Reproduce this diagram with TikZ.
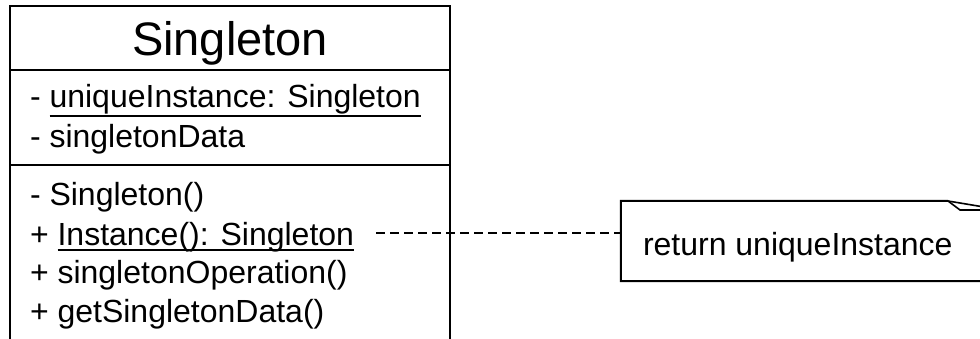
\documentclass[tikz,border=0pt]{standalone}
\usepackage{fontspec}
\setmainfont{Liberation Sans}
\usetikzlibrary{calc}
\begin{document}
\begin{tikzpicture}[x=1pt,y=-1pt,
  compartment/.style={draw, line width=2pt, rectangle, inner sep=0pt, minimum width=440pt},
  member/.style={anchor=base west, inner sep=0pt, outer sep=0pt, font=\fontsize{32}{38}\selectfont},
  titletext/.style={anchor=base, inner sep=0pt, outer sep=0pt, font=\fontsize{47}{56}\selectfont},
  staticline/.style={line width=2pt},
  outline/.style={line width=2pt, line join=miter},
  anchorline/.style={line width=1.4pt, dash pattern=on 9pt off 5pt}]
\useasboundingbox (0,0) rectangle (980,339);
\clip (0,0) rectangle (980,339);

% class compartments
\node[compartment, minimum height=64pt] (head) at (230,38) {};
\node[compartment, minimum height=95pt] (attrs) at (230,117.5) {};
\node[compartment, minimum height=180pt] (ops) at (230,255) {};

% class name
\node[titletext] (name) at (230,56) {Singleton};

% attributes (the static one underlined)
\node[member] (a1) at (30,108) {-\ \null};
\node[member] (ui) at (a1.base east) {uniqueInstance: Singleton};
\node[member] (a2) at (30,148) {- singletonData};
\draw[staticline] ($(ui.base west)+(0,8)$) -- ($(ui.base east)+(0,8)$);

% operations (the static one underlined)
\node[member] (o1) at (30,206) {- Singleton()};
\node[member] (o2) at (30,245) {+\ \null};
\node[member] (inst) at (o2.base east) {Instance(): Singleton};
\node[member] (o3) at (30,283.5) {+ singletonOperation()};
\node[member] (o4) at (30,322) {+ getSingletonData()};
\draw[staticline] ($(inst.base west)+(0,5.5)$) -- ($(inst.base east)+(0,5.5)$);

% note with folded corner
\node[inner sep=0pt, minimum width=370pt, minimum height=80pt] (note) at (806,241) {};
\draw[outline] (948,201) -- (note.north west) -- (note.south west) -- (note.south east);
\draw[line width=1.6pt, line join=miter] (948,201) -- (960,210) -- (990,210);
\draw[line width=1.6pt] (948,201) -- (990,208);
\node[member] (notetext) at (643,255) {return uniqueInstance};

% note anchor
\coordinate (dashstart) at (376,233);
\draw[anchorline] (dashstart) -- (dashstart -| note.west);
\end{tikzpicture}
\end{document}
